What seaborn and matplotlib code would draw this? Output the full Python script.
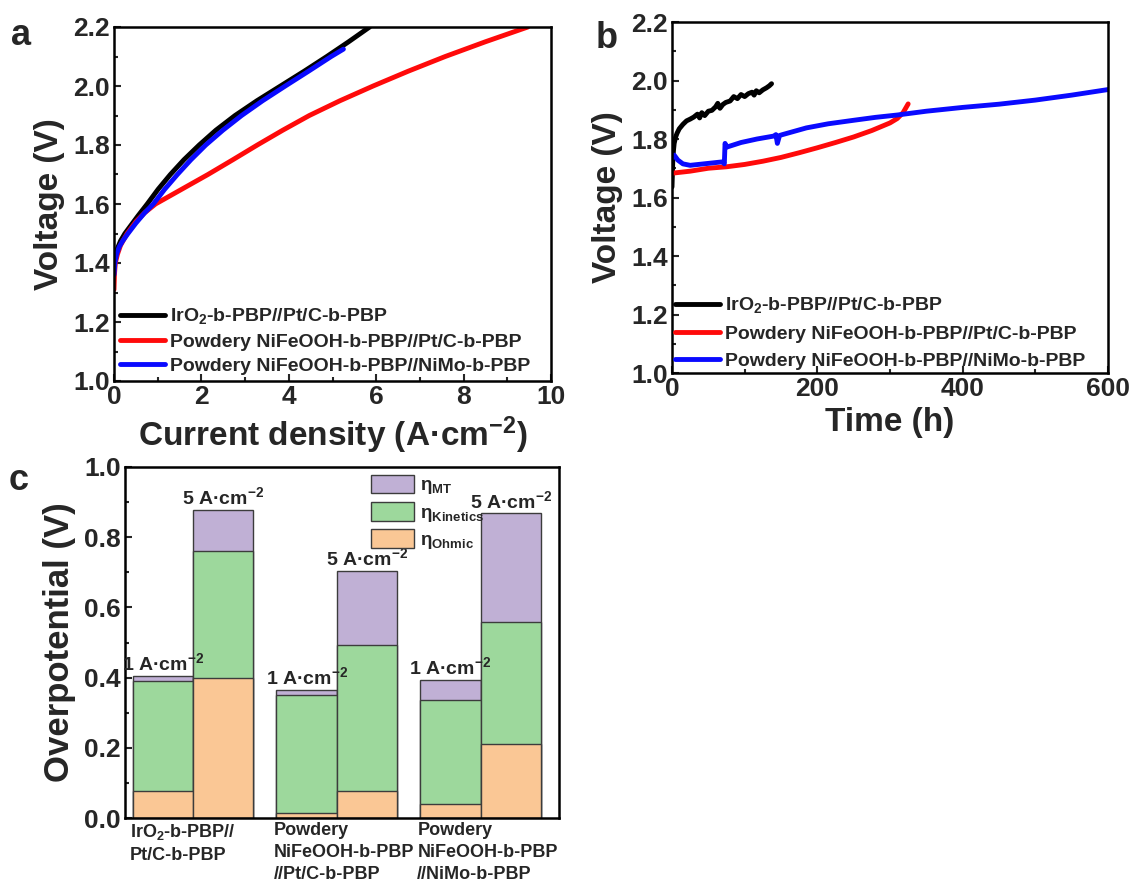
import numpy as np
import pandas as pd
import matplotlib
matplotlib.use("Agg")
import matplotlib.pyplot as plt
import matplotlib.transforms as mtransforms
from matplotlib.patches import Patch
from matplotlib.ticker import MultipleLocator, FormatStrFormatter
import seaborn as sns

# ---------------- data ----------------
series_labels = ["IrO$_2$-b-PBP//Pt/C-b-PBP",
                 "Powdery NiFeOOH-b-PBP//Pt/C-b-PBP",
                 "Powdery NiFeOOH-b-PBP//NiMo-b-PBP"]
line_colors = ["#000000", "#FF0A0A", "#0A0AFF"]

# panel a: polarization curves (current density A/cm2, voltage V)
j_ir = [0.0, 0.01, 0.04, 0.08, 0.15, 0.25, 0.4, 0.55, 0.76, 1.01, 1.29, 1.60, 1.95, 2.33, 2.77, 3.27, 3.81, 4.35, 4.87, 5.37, 5.85]
v_ir = [1.39, 1.41, 1.43, 1.45, 1.475, 1.50, 1.53, 1.56, 1.60, 1.65, 1.70, 1.75, 1.80, 1.85, 1.90, 1.95, 2.00, 2.05, 2.10, 2.15, 2.20]
j_nf_pt = [0.0, 0.01, 0.03, 0.08, 0.15, 0.3, 0.5, 0.7, 0.95, 1.55, 2.15, 2.72, 3.28, 3.86, 4.47, 5.17, 5.93, 6.73, 7.58, 8.50, 9.47]
v_nf_pt = [1.31, 1.36, 1.40, 1.43, 1.46, 1.50, 1.54, 1.57, 1.60, 1.65, 1.70, 1.75, 1.80, 1.85, 1.90, 1.95, 2.00, 2.05, 2.10, 2.15, 2.20]
j_nf_nimo = [0.0, 0.02, 0.06, 0.12, 0.2, 0.32, 0.5, 0.7, 0.9, 1.16, 1.45, 1.76, 2.10, 2.49, 2.92, 3.40, 3.92, 4.45, 4.97, 5.25]
v_nf_nimo = [1.36, 1.40, 1.43, 1.455, 1.475, 1.50, 1.535, 1.57, 1.60, 1.65, 1.70, 1.75, 1.80, 1.85, 1.90, 1.95, 2.00, 2.05, 2.10, 2.125]

# panel b: stability (time h, voltage V)
t_ir = [0, 1, 2, 3, 5, 7, 10, 15, 20, 25, 30, 35, 38, 41, 45, 50, 55, 60, 63, 66, 70, 74, 80, 85, 90, 95, 100, 105, 110, 113, 116, 120, 125, 130, 134, 137]
v_ir_t = [1.636, 1.72, 1.76, 1.785, 1.807, 1.82, 1.835, 1.85, 1.862, 1.868, 1.875, 1.885, 1.872, 1.89, 1.88, 1.895, 1.898, 1.91, 1.922, 1.905, 1.918, 1.925, 1.93, 1.945, 1.938, 1.952, 1.945, 1.955, 1.96, 1.95, 1.965, 1.958, 1.968, 1.975, 1.982, 1.989]
t_nf_pt = [0, 25, 50, 75, 100, 125, 150, 175, 200, 225, 250, 275, 300, 310, 318, 325]
v_nf_pt_t = [1.683, 1.690, 1.700, 1.705, 1.713, 1.724, 1.737, 1.753, 1.770, 1.788, 1.807, 1.829, 1.855, 1.870, 1.890, 1.920]
t_nf_nimo = [0, 3, 8, 15, 25, 40, 55, 70, 72, 73, 75, 80, 95, 117, 140, 143, 145, 148, 152, 185, 215, 250, 280, 310, 350, 400, 450, 500, 550, 600]
v_nf_nimo_t = [1.735, 1.745, 1.728, 1.715, 1.710, 1.714, 1.718, 1.722, 1.715, 1.785, 1.772, 1.776, 1.788, 1.800, 1.810, 1.815, 1.785, 1.812, 1.815, 1.838, 1.852, 1.864, 1.874, 1.882, 1.895, 1.908, 1.919, 1.933, 1.950, 1.969]

# panel c: overpotential breakdown
groups = ["IrO$_2$-b-PBP//\nPt/C-b-PBP",
          "Powdery\nNiFeOOH-b-PBP\n//Pt/C-b-PBP",
          "Powdery\nNiFeOOH-b-PBP\n//NiMo-b-PBP"]
densities = ["1", "5"]
ohmic_1 = [0.078, 0.014, 0.041]
kin_1 = [0.312, 0.337, 0.294]
mt_1 = [0.015, 0.014, 0.059]
ohmic_5 = [0.398, 0.078, 0.212]
kin_5 = [0.364, 0.414, 0.345]
mt_5 = [0.116, 0.213, 0.311]
density_labels = ["1 A\u00b7cm$^{-2}$", "5 A\u00b7cm$^{-2}$"]
comp_labels = ["\u03b7$_{\\mathregular{MT}}$", "\u03b7$_{\\mathregular{Kinetics}}$", "\u03b7$_{\\mathregular{Ohmic}}$"]
comp_colors = ["#C0B0D5", "#9DD89C", "#FAC795"]

# ---------------- style ----------------
sns.set_style("ticks")
plt.rcParams["font.family"] = ["Liberation Sans", "DejaVu Sans"]
plt.rcParams["font.weight"] = "bold"
plt.rcParams["axes.labelweight"] = "bold"
plt.rcParams["mathtext.fontset"] = "custom"
plt.rcParams["mathtext.rm"] = "Liberation Sans:bold"
plt.rcParams["mathtext.bf"] = "Liberation Sans:bold"
plt.rcParams["mathtext.it"] = "Liberation Sans:italic:bold"
plt.rcParams["mathtext.default"] = "bf"
plt.rcParams["axes.linewidth"] = 1.8
plt.rcParams["axes.edgecolor"] = "black"

TICK = 19
LAB = 24

fig = plt.figure(figsize=(11.32, 8.84), dpi=100)
W, H = 1132, 884
def box(l, t, r, b):
    return [l / W, 1 - b / H, (r - l) / W, (b - t) / H]

ax_a = fig.add_axes(box(114, 27, 551, 381))
ax_b = fig.add_axes(box(672, 22, 1108, 373))
ax_c = fig.add_axes(box(125, 467, 559, 818))

def style_axis(ax):
    ax.tick_params(which="both", direction="in", top=False, right=False,
                   labelsize=TICK, width=1.5, pad=3)
    ax.tick_params(which="major", length=5)
    ax.tick_params(which="minor", length=3)
    for s in ax.spines.values():
        s.set_visible(True)
        s.set_linewidth(1.8)
    for lab in ax.get_xticklabels() + ax.get_yticklabels():
        lab.set_fontweight("bold")

# ---------------- panel a ----------------
df_a = pd.concat([
    pd.DataFrame({"j": j_ir, "v": v_ir, "s": series_labels[0]}),
    pd.DataFrame({"j": j_nf_pt, "v": v_nf_pt, "s": series_labels[1]}),
    pd.DataFrame({"j": j_nf_nimo, "v": v_nf_nimo, "s": series_labels[2]}),
])
sns.lineplot(data=df_a, x="j", y="v", hue="s", hue_order=series_labels,
             palette=line_colors, linewidth=3.5, estimator=None, sort=False,
             legend=False, ax=ax_a)
ax_a.set_xlim(0, 10)
ax_a.set_ylim(1.0, 2.2)
ax_a.xaxis.set_major_locator(MultipleLocator(2))
ax_a.xaxis.set_minor_locator(MultipleLocator(1))
ax_a.yaxis.set_major_locator(MultipleLocator(0.2))
ax_a.yaxis.set_minor_locator(MultipleLocator(0.1))
ax_a.set_xlabel("Current density (A\u00b7cm$^{-2}$)", fontsize=LAB, fontweight="bold", labelpad=4)
ax_a.set_ylabel("Voltage (V)", fontsize=LAB, fontweight="bold", labelpad=6)
style_axis(ax_a)
ax_a.yaxis.set_major_formatter(FormatStrFormatter("%.1f"))
ax_a.legend(ax_a.lines[:3], series_labels, loc="lower left", frameon=False,
            handlelength=2.3, handletextpad=0.3, labelspacing=0.35,
            borderaxespad=0.1, borderpad=0.2, prop={"weight": "bold", "size": 14})

# ---------------- panel b ----------------
df_b = pd.concat([
    pd.DataFrame({"t": t_ir, "v": v_ir_t, "s": series_labels[0]}),
    pd.DataFrame({"t": t_nf_pt, "v": v_nf_pt_t, "s": series_labels[1]}),
    pd.DataFrame({"t": t_nf_nimo, "v": v_nf_nimo_t, "s": series_labels[2]}),
])
sns.lineplot(data=df_b, x="t", y="v", hue="s", hue_order=series_labels,
             palette=line_colors, linewidth=3.5, estimator=None, sort=False,
             legend=False, ax=ax_b)
ax_b.set_xlim(0, 600)
ax_b.set_ylim(1.0, 2.2)
ax_b.xaxis.set_major_locator(MultipleLocator(200))
ax_b.xaxis.set_minor_locator(MultipleLocator(100))
ax_b.yaxis.set_major_locator(MultipleLocator(0.2))
ax_b.yaxis.set_minor_locator(MultipleLocator(0.1))
ax_b.set_xlabel("Time (h)", fontsize=LAB, fontweight="bold", labelpad=4)
ax_b.set_ylabel("Voltage (V)", fontsize=LAB, fontweight="bold", labelpad=6)
style_axis(ax_b)
ax_b.yaxis.set_major_formatter(FormatStrFormatter("%.1f"))
ax_b.legend(ax_b.lines[:3], series_labels, loc="lower left", frameon=False,
            handlelength=2.3, handletextpad=0.3, labelspacing=0.5,
            borderaxespad=0.05, borderpad=0.1, prop={"weight": "bold", "size": 14})

# ---------------- panel c ----------------
rows = []
for i, g in enumerate(groups):
    for d, oh, kn, mt in [("1", ohmic_1[i], kin_1[i], mt_1[i]), ("5", ohmic_5[i], kin_5[i], mt_5[i])]:
        rows.append({"group": g, "density": d, "ohmic": oh,
                     "ohm_kin": oh + kn, "total": oh + kn + mt})
df_c = pd.DataFrame(rows)

edge = "#3C3C3C"
for col, colr in zip(["total", "ohm_kin", "ohmic"], comp_colors):
    sns.barplot(data=df_c, x="group", y=col, hue="density", hue_order=densities,
                order=groups, palette={d: colr for d in densities}, width=0.84,
                errorbar=None, edgecolor=edge, linewidth=1.0, legend=False,
                saturation=1, ax=ax_c)

# current density labels on top of each bar (first layer = totals)
for k, cont in enumerate(ax_c.containers[:2]):
    ax_c.bar_label(cont, labels=[density_labels[k]] * len(groups), padding=1,
                   fontsize=14, fontweight="bold")

ax_c.set_xlim(-0.474, 2.546)
ax_c.set_ylim(0, 1.0)
ax_c.yaxis.set_major_locator(MultipleLocator(0.2))
ax_c.yaxis.set_minor_locator(MultipleLocator(0.1))
ax_c.set_xticks([])
ax_c.set_xlabel("")
ax_c.set_ylabel("Overpotential (V)", fontsize=LAB + 1, fontweight="bold", labelpad=6)
style_axis(ax_c)
ax_c.yaxis.set_major_formatter(FormatStrFormatter("%.1f"))
trans = mtransforms.blended_transform_factory(ax_c.transData, ax_c.transAxes)
for i, g in enumerate(groups):
    ax_c.text(i - 0.44, -0.01, g, transform=trans, ha="left", va="top",
              fontsize=13, fontweight="bold", linespacing=1.42)

handles = [Patch(facecolor=c, edgecolor=edge, linewidth=1.0) for c in comp_colors]
ax_c.legend(handles, comp_labels, loc="upper left", bbox_to_anchor=(0.545, 1.005),
            frameon=False, handlelength=2.3, handleheight=1.15, handletextpad=0.3,
            labelspacing=0.3, borderpad=0.0, prop={"weight": "bold", "size": 13.5})

# panel letters
fig.text(0.010, 0.949, "a", fontsize=26, fontweight="bold", va="baseline")
fig.text(0.526, 0.946, "b", fontsize=26, fontweight="bold", va="baseline")
fig.text(0.008, 0.446, "c", fontsize=26, fontweight="bold", va="baseline")

fig.savefig("out.png", dpi=100)
